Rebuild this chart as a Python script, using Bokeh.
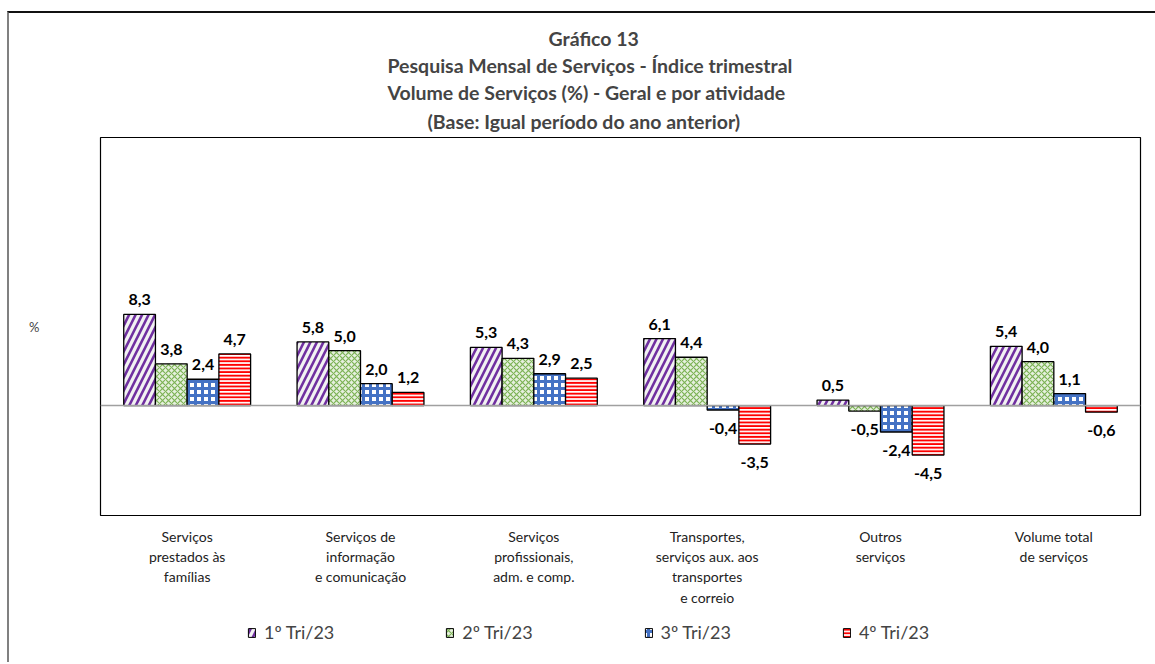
from bokeh.plotting import figure
from bokeh.layouts import column
from bokeh.models import (ColumnDataSource, Range1d, Span, Title, Legend, LegendItem,
                          LabelSet, FactorRange)
from bokeh.core.properties import value
from bokeh.transform import dodge
from bokeh.embed import file_html
from bokeh.resources import INLINE

categories = ["Serviços\nprestados às\nfamílias",
              "Serviços de\ninformação\ne comunicação",
              "Serviços\nprofissionais,\nadm. e comp.",
              "Transportes,\nserviços aux. aos\ntransportes\ne correio",
              "Outros\nserviços",
              "Volume total\nde serviços"]
series_names = ["1º Tri/23", "2º Tri/23", "3º Tri/23", "4º Tri/23"]
tri1 = [8.3, 5.8, 5.3, 6.1, 0.5, 5.4]
tri2 = [3.8, 5.0, 4.3, 4.4, -0.5, 4.0]
tri3 = [2.4, 2.0, 2.9, -0.4, -2.4, 1.1]
tri4 = [4.7, 1.2, 2.5, -3.5, -4.5, -0.6]
series_values = [tri1, tri2, tri3, tri4]

FONT = "Lato"

p = figure(x_range=FactorRange(*categories), y_range=Range1d(-10, 24.4),
           width=1146, height=605, output_backend="svg", toolbar_location=None,
           min_border_left=91, min_border_right=15, min_border_top=124, min_border_bottom=103)

p.outline_line_color = "black"
p.outline_line_width = 1.2
p.xgrid.grid_line_color = None
p.ygrid.grid_line_color = None

p.add_layout(Span(location=0, dimension="width", line_color="#A0A0A0", line_width=1.5))

styles = [
    dict(fill_color="#F2F2F2", hatch_pattern="right_diagonal_line", hatch_color="#7030A0",
         hatch_weight=2.6, hatch_scale=13),
    dict(fill_color="#E6F0DE", hatch_pattern="diagonal_cross", hatch_color="#7DB356",
         hatch_weight=1.2, hatch_scale=6),
    dict(fill_color="white", hatch_pattern="cross", hatch_color="#4472C4",
         hatch_weight=3, hatch_scale=7),
    dict(fill_color="white", hatch_pattern="horizontal_line", hatch_color="#FF0000",
         hatch_weight=2.2, hatch_scale=3.6),
]

bw = 0.183
offsets = [-1.5 * bw, -0.5 * bw, 0.5 * bw, 1.5 * bw]
for i, (name, vals) in enumerate(zip(series_names, series_values)):
    src = ColumnDataSource(dict(cat=categories, val=vals,
                                lab=[("%.1f" % v).replace(".", ",") for v in vals],
                                pos=[v if v >= 0 else float("nan") for v in vals],
                                neg=[v if v < 0 else float("nan") for v in vals]))
    p.vbar(x=dodge("cat", offsets[i], range=p.x_range), top="val", bottom=0, width=bw,
           source=src, line_color="black", line_width=1.3, **styles[i])
    for col, base, off in (("pos", "bottom", 9), ("neg", "top", -13)):
        p.add_layout(LabelSet(x=dodge("cat", offsets[i], range=p.x_range), y=col, text="lab",
                              source=src, text_align="center", text_baseline=base, y_offset=off,
                              text_font=value(FONT), text_font_size=value("16px"),
                              text_font_style="bold", text_color="black"))

p.xaxis.axis_line_color = None
p.xaxis.major_tick_line_color = None
p.xaxis.minor_tick_line_color = None
p.xaxis.major_label_standoff = 6
p.xaxis.major_label_text_font = FONT
p.xaxis.major_label_text_font_size = "14px"
p.xaxis.major_label_text_line_height = 1.2
p.xaxis.major_label_text_color = "#222222"

p.yaxis.axis_line_color = None
p.yaxis.major_tick_line_color = None
p.yaxis.minor_tick_line_color = None
p.yaxis.major_label_text_font_size = "0px"
p.yaxis.axis_label = "%"
p.yaxis.axis_label_orientation = "horizontal"
p.yaxis.axis_label_text_font = FONT
p.yaxis.axis_label_text_font_size = "13px"
p.yaxis.axis_label_text_font_style = "normal"
p.yaxis.axis_label_standoff = 55

title_lines = ["Gráfico 13",
               "Pesquisa Mensal de Serviços  - Índice trimestral",
               "Volume de Serviços (%) - Geral e por atividade",
               "(Base: Igual período do ano anterior)"]
title_offsets = [448, 287, 287, 327]
title_standoffs = [2, 2, 2, 8]
title_valign = ["bottom", "bottom", "bottom", "middle"]
for t, off, so, va in reversed(list(zip(title_lines, title_offsets, title_standoffs, title_valign))):
    p.add_layout(Title(text=t, align="left", offset=off, text_font=FONT, text_font_size="19.5px",
                       text_font_style="bold", standoff=so, vertical_align=va), "above")

# legend strip below the chart
lf = figure(width=1146, height=44, output_backend="svg", toolbar_location=None,
            x_range=Range1d(0, 1), y_range=Range1d(0, 1),
            x_axis_location=None, y_axis_location=None,
            min_border_left=0, min_border_right=0, min_border_top=0, min_border_bottom=0)
lf.outline_line_color = None
lf.xgrid.grid_line_color = None
lf.ygrid.grid_line_color = None
items = []
for i, name in enumerate(series_names):
    r = lf.vbar(x=[-5], top=[-4], bottom=[-5], width=0.1, line_color="black", line_width=1.0,
                **styles[i])
    items.append(LegendItem(label=name, renderers=[r]))
legend = Legend(items=items, orientation="horizontal", location=(147, 19),
                label_text_font=FONT, label_text_font_size="18px",
                glyph_width=9, glyph_height=11, label_standoff=8, spacing=111,
                border_line_color=None, background_fill_alpha=0, padding=0, margin=0)
lf.add_layout(legend)

layout = column(p, lf, spacing=0)
layout.styles = {"border-top": "2px solid #111", "border-left": "2px solid #808080",
                 "margin-left": "7px", "margin-top": "11px"}

open("out.html", "w").write(file_html(layout, INLINE))
